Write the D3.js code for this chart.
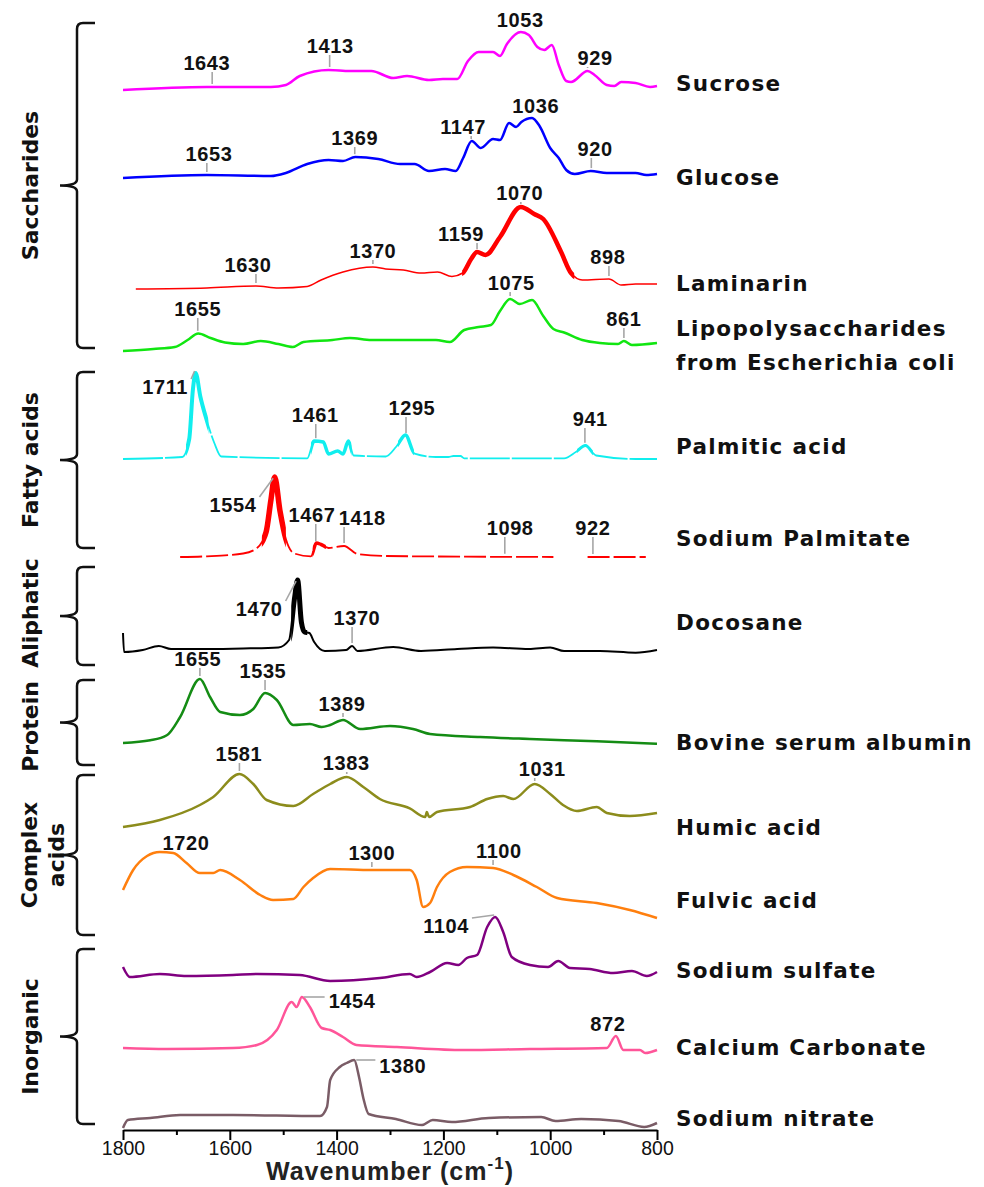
<!DOCTYPE html>
<html>
<head>
<meta charset="utf-8">
<script src="https://cdn.jsdelivr.net/npm/d3@7"></script>
<style>
  body { margin: 0; background: #fff; }
</style>
</head>
<body>
<script>
// ---- data: wavenumber (cm-1) and absorbance above each trace's own baseline (a.u.)
const sucroseWn = [1800,1643,1523,1495,1469,1415,1375,1335,1294,1268,1227,1201,1174,1154,1134,1107,1094,1081,1055,1040,1024,1011,997,984,970,961,930,917,894,880,867,840,813,800];
const sucroseAbs = [0,.03,.03,.05,.14,.20,.19,.19,.12,.14,.10,.11,.11,.29,.38,.38,.34,.46,.58,.55,.43,.40,.45,.25,.09,.08,.19,.15,.05,.04,.08,.07,.03,.04];

const glucoseWn = [1800,1643,1523,1495,1455,1415,1388,1365,1322,1281,1254,1227,1197,1177,1163,1147,1130,1107,1094,1077,1064,1054,1034,1020,1000,984,970,954,924,894,867,840,820,800];
const glucoseAbs = [0,.03,.02,.05,.14,.18,.17,.21,.19,.14,.14,.07,.09,.07,.20,.37,.30,.39,.38,.55,.51,.56,.60,.52,.30,.20,.08,.04,.07,.05,.05,.05,.03,.04];

const laminarinWn = [1776,1643,1551,1509,1455,1429,1388,1332,1308,1275,1242,1211,1184,1164,1148,1137,1121,1094,1055,1030,1013,980,961,940,890,867,840,800];
const laminarinAbs = [0,.01,.03,.01,.025,.09,.17,.22,.20,.19,.16,.17,.125,.16,.30,.37,.34,.52,.82,.75,.70,.375,.16,.09,.10,.04,.05,.05];

const lpsWn = [1800,1743,1703,1679,1659,1636,1609,1575,1542,1509,1482,1462,1408,1375,1335,1275,1214,1188,1161,1134,1111,1094,1075,1057,1034,1013,994,974,940,907,873,862,847,800];
const lpsAbs = [0,.02,.04,.11,.175,.13,.085,.07,.10,.07,.04,.09,.11,.13,.11,.11,.11,.09,.21,.24,.26,.40,.52,.47,.51,.35,.22,.185,.11,.08,.07,.10,.06,.08];

const palmiticWn = [1800,1689,1676,1669,1664,1655,1645,1629,1616,1455,1442,1425,1415,1398,1388,1378,1368,1308,1288,1271,1254,1214,1191,1181,1168,1161,974,952,934,914,840,800];
const palmiticAbs = [0,.02,.20,.70,.86,.62,.42,.16,.025,.007,.18,.17,.05,.08,.05,.18,.035,.025,.125,.24,.054,.02,.02,.03,.03,.007,.007,.07,.135,.035,0,0];

const palmitateWn = [1693,1643,1575,1549,1532,1523,1516,1506,1495,1479,1448,1438,1429,1415,1386,1361,1308,994,993,930,821];
const palmitateAbs = [0,.007,.035,.09,.25,.57,.80,.46,.18,.035,.007,.14,.125,.09,.11,.03,.01,0,null,0,0];

const docosaneWn = [1800,1798,1763,1733,1710,1643,1575,1509,1489,1479,1473,1466,1460,1451,1442,1422,1382,1371,1361,1294,1242,1174,1107,1040,1000,974,907,840,800];
const docosaneAbs = [.19,0,.02,.06,.03,.03,.035,.046,.12,.53,.72,.30,.20,.19,.10,.01,.02,.06,.01,.05,.01,.03,.046,.03,.046,.01,.01,-.007,.02];

const bsaWn = [1800,1749,1718,1693,1656,1637,1618,1581,1556,1534,1512,1481,1450,1428,1412,1388,1356,1300,1257,1225,1131,1038,913,800];
const bsaAbs = [0,.027,.077,.26,.64,.46,.31,.28,.34,.50,.43,.18,.19,.16,.18,.23,.14,.17,.14,.09,.06,.04,.017,-.007];

const humicWn = [1800,1731,1656,1631,1582,1556,1531,1481,1444,1412,1381,1350,1319,1263,1234,1231,1227,1212,1150,1118,1088,1069,1029,1000,976,950,913,894,851,800];
const humicAbs = [0,.07,.22,.30,.53,.43,.27,.21,.33,.43,.50,.40,.28,.187,.10,.15,.10,.15,.20,.28,.31,.28,.43,.33,.22,.16,.20,.14,.11,.14];

const fulvicWn = [1800,1781,1755,1731,1706,1681,1656,1631,1618,1581,1543,1519,1481,1462,1444,1412,1334,1263,1250,1238,1225,1212,1188,1156,1107,1069,1025,987,913,851,800];
const fulvicAbs = [.30,.50,.64,.68,.67,.57,.47,.47,.50,.40,.25,.20,.21,.33,.42,.51,.50,.50,.40,.13,.17,.33,.48,.53,.52,.45,.33,.22,.17,.10,.02];

const sulfateWn = [1800,1787,1731,1681,1594,1549,1469,1412,1319,1263,1250,1225,1193,1172,1156,1137,1118,1103,1088,1072,1038,1004,985,963,926,882,847,819,800];
const sulfateAbs = [.11,.01,.04,.02,.03,.04,.03,-.03,0,.04,.01,.06,.15,.13,.20,.23,.51,.61,.46,.21,.13,.11,.17,.10,.09,.05,.07,.02,.06];

const carbonateWn = [1800,1718,1594,1549,1512,1484,1475,1465,1450,1428,1412,1388,1363,1287,1163,1038,894,877,863,832,822,800];
const carbonateAbs = [0,-.01,0,.03,.18,.46,.41,.51,.41,.20,.18,.11,.03,.01,-.02,-.01,0,.12,-.02,-.02,-.05,-.02];

const nitrateWn = [1800,1791,1749,1693,1594,1431,1418,1412,1394,1381,1367,1358,1350,1340,1289,1240,1220,1184,1115,1017,990,942,872,824,800];
const nitrateAbs = [-.11,-.03,-.01,.02,.02,.01,.10,.37,.50,.54,.57,.40,.19,.03,-.02,-.08,-.03,-.05,-.01,0,-.04,-.02,-.04,-.10,-.06];

const sampleNames = [["Sucrose"],["Glucose"],["Laminarin"],["Lipopolysaccharides","from Escherichia coli"],
  ["Palmitic acid"],["Sodium Palmitate"],["Docosane"],["Bovine serum albumin"],["Humic acid"],
  ["Fulvic acid"],["Sodium sulfate"],["Calcium Carbonate"],["Sodium nitrate"]];
const sampleWn = [sucroseWn, glucoseWn, laminarinWn, lpsWn, palmiticWn, palmitateWn, docosaneWn, bsaWn, humicWn, fulvicWn, sulfateWn, carbonateWn, nitrateWn];
const sampleAbs = [sucroseAbs, glucoseAbs, laminarinAbs, lpsAbs, palmiticAbs, palmitateAbs, docosaneAbs, bsaAbs, humicAbs, fulvicAbs, sulfateAbs, carbonateAbs, nitrateAbs];
// vertical stacking offset of each trace (a.u.)
const sampleOffset = [10.40, 9.52, 8.41, 7.79, 6.71, 5.73, 4.78, 3.87, 3.03, 2.10, 1.52, 0.82, 0.13];

// peak labels: [trace, text, leader wavenumber, label wavenumber, label height above baseline]
const peakLabels = [
  [0,"1643",1633,1643,.28],[0,"1413",1413,1412,.45],[0,"1053",1055,1056,.71],[0,"929",930,916,.33],
  [1,"1653",1643,1639,.25],[1,"1369",1366,1366,.41],[1,"1147",1148,1163,.52],[1,"1036",1034,1027,.73],[1,"920",923,916,.30],
  [2,"1630",1551,1566,.25],[2,"1370",1332,1332,.39],[2,"1159",1137,1167,.56],[2,"1070",1055,1057,.97],[2,"898",890,892,.33],
  [3,"1655",1660,1660,.43],[3,"1075",1075,1073,.69],[3,"861",862,862,.33],
  [4,"1711",1664,1721,.73],[4,"1461",1439,1440,.45],[4,"1295",1270,1259,.52],[4,"941",935,925,.41],
  [5,"1554",1517,1594,.53],[5,"1467",1439,1446,.43],[5,"1418",1386,1352,.40],[5,"1098",1085,1075,.30],[5,"922",920,920,.30],
  [6,"1470",1474,1545,.44],[6,"1370",1371,1362,.35],
  [7,"1655",1656,1660,.85],[7,"1535",1534,1538,.73],[7,"1389",1388,1390,.40],
  [8,"1581",1582,1583,.74],[8,"1383",1381,1382,.65],[8,"1031",1029,1015,.59],
  [9,"1720",null,1682,.78],[9,"1300",1334,1334,.68],[9,"1100",1107,1096,.70],
  [10,"1104",1103,1195,.53],
  [11,"1454",1465,1371,.48],[11,"872",877,892,.25],
  [12,"1380",1367,1276,.52]
];

// sample classes drawn as braces (a.u.)
const groupNames = [["Saccharides"],["Fatty acids"],["Aliphatic"],["Protein"],["Complex","acids"],["Inorganic"]];
const groupTop = [11.07, 7.58, 5.63, 4.50, 3.55, 1.81];
const groupBottom = [7.82, 5.82, 4.65, 3.65, 1.95, 0.06];

const majorTicks = [1800, 1600, 1400, 1200, 1000, 800];
const minorTicks = [1700, 1500, 1300, 1100, 900];

// ---- styles
const colors = ["#ff00ff","#0000ff","#ff0000","#11e611","#11eeee","#ff0000","#000000","#148c14","#8c8c1c","#ff7f0e","#800080","#ff5599","#7a5c66"];
const widths = [2.5, 2.5, 1.5, 2.5, 1.8, 1.8, 2, 2.5, 2.5, 2.5, 2.5, 2.5, 2.5];
const dashes = [null, null, null, null, "40,2", "22,4", null, null, null, null, null, null, null];
// thicker parts of some traces: [trace, from wn, to wn, width]
const thick = [[2,1165,955,4.5],[4,1682,1640,4],[4,1448,1372,3.5],[4,1285,1255,3.5],[4,950,920,3],
  [5,1540,1495,5.5],[5,1445,1420,3.5],[6,1485,1455,5]];
const labelY = [83, 177, 283, 328, 446, 538, 622, 742, 827, 900, 970, 1047, 1118];

const width = 984, height = 1187;
const svg = d3.select("body").append("svg")
  .attr("width", width).attr("height", height)
  .style("font-family", "'Liberation Sans', Arial, sans-serif");

const x = d3.scaleLinear().domain([1800, 800]).range([123, 657]);
const y = d3.scaleLinear().domain([0, 11]).range([1130, 30]);

function absAt(i, wn) {
  const w = sampleWn[i], a = sampleAbs[i];
  for (let k = 0; k < w.length - 1; k++) {
    if (a[k] == null || a[k + 1] == null) continue;
    if (wn <= w[k] && wn >= w[k + 1]) {
      const t = (w[k] - wn) / (w[k] - w[k + 1]);
      return a[k] + t * (a[k + 1] - a[k]);
    }
  }
  return 0;
}

const line = d3.line()
  .defined(d => d.a != null)
  .x(d => x(d.wn))
  .y(d => y(d.off + d.a))
  .curve(d3.curveMonotoneX);

const traces = sampleWn.map((w, i) => w.map((wn, k) => ({ wn, a: sampleAbs[i][k], off: sampleOffset[i] })));

const defs = svg.append("defs");
thick.forEach((t, j) => {
  defs.append("clipPath").attr("id", "thick" + j)
    .append("rect")
    .attr("x", x(t[1])).attr("width", x(t[2]) - x(t[1]))
    .attr("y", 0).attr("height", height);
});

const plot = svg.append("g");
plot.selectAll("path.trace")
  .data(traces)
  .join("path")
  .attr("class", "trace")
  .attr("d", line)
  .attr("fill", "none")
  .attr("stroke", (d, i) => colors[i])
  .attr("stroke-width", (d, i) => widths[i])
  .attr("stroke-dasharray", (d, i) => dashes[i])
  .attr("stroke-linejoin", "round");

thick.forEach((t, j) => {
  plot.append("path")
    .attr("d", line(traces[t[0]]))
    .attr("fill", "none")
    .attr("stroke", colors[t[0]])
    .attr("stroke-width", t[3])
    .attr("stroke-linejoin", "round")
    .attr("clip-path", `url(#thick${j})`);
});

// x axis
const axisG = svg.append("g").attr("transform", `translate(0,${y(0)})`);
axisG.call(d3.axisBottom(x).tickValues(majorTicks).tickFormat(d3.format("d"))
    .tickSize(10).tickPadding(1).tickSizeOuter(0))
  .call(g => g.select(".domain").attr("stroke-width", 2))
  .call(g => g.selectAll(".tick line").attr("stroke-width", 2))
  .call(g => g.selectAll(".tick text")
    .attr("font-family", "'Liberation Sans', Arial, sans-serif")
    .attr("font-size", 19.5).attr("fill", "#111"));
svg.append("g").attr("transform", `translate(0,${y(0)})`)
  .call(d3.axisBottom(x).tickValues(minorTicks).tickSize(5).tickFormat("").tickSizeOuter(0))
  .call(g => g.select(".domain").remove())
  .call(g => g.selectAll(".tick line").attr("stroke-width", 2));

const title = svg.append("text")
  .attr("x", (x.range()[0] + x.range()[1]) / 2).attr("y", 1180)
  .attr("text-anchor", "middle")
  .attr("font-weight", "bold").attr("font-size", 25)
  .attr("letter-spacing", 1).attr("fill", "#222");
title.append("tspan").text("Wavenumber (cm");
title.append("tspan").attr("font-size", 17).attr("dy", -11).text("-1");
title.append("tspan").attr("dy", 11).text(")");

// peak labels with grey leader lines
const ann = svg.append("g");
peakLabels.forEach(([i, txt, anchorWn, labWn, labH]) => {
  const tx = x(labWn), ty = y(sampleOffset[i] + labH);
  const t = ann.append("text")
    .attr("x", tx).attr("y", ty + 7.5)
    .attr("text-anchor", "middle")
    .attr("font-weight", "bold").attr("font-size", 20)
    .attr("letter-spacing", 0.6).attr("fill", "#111")
    .text(txt);
  if (anchorWn == null) return;
  const hw = t.node().getComputedTextLength() / 2;
  const ax = x(anchorWn), ay = y(sampleOffset[i] + absAt(i, anchorWn));
  let p;
  if (Math.abs(tx - ax) < hw) {
    p = [[ax, ty + 10], [ax, ay - 3]];
  } else if (ax > tx) {
    p = [[tx + hw + 3, Math.max(ty - 7, Math.min(ay, ty + 7))], [ax - 1, ay - 2]];
  } else {
    p = [[ax + 2, ay], [tx - hw - 4, Math.max(ty - 7, Math.min(ay, ty + 7))]];
  }
  ann.append("line")
    .attr("x1", p[0][0]).attr("y1", p[0][1]).attr("x2", p[1][0]).attr("y2", p[1][1])
    .attr("stroke", "#a6a6a6").attr("stroke-width", 1.6);
});

// sample names on the right
sampleNames.forEach((lines, i) => {
  lines.forEach((s, k) => {
    svg.append("text")
      .attr("x", 676).attr("y", labelY[i] + 8 + k * 34)
      .attr("font-family", "'DejaVu Sans', Verdana, sans-serif")
      .attr("font-weight", "bold").attr("font-size", 21.5)
      .attr("letter-spacing", 1.3).attr("fill", "#111")
      .text(s);
  });
});

// class braces and labels on the left
const vx = 77, armX = 95, tipX = 60, r = 6;
groupNames.forEach((names, g) => {
  const top = y(groupTop[g]), bot = y(groupBottom[g]), mid = (top + bot) / 2;
  const path = `M${armX},${top} L${vx + r},${top} Q${vx},${top} ${vx},${top + r}
    L${vx},${mid - r} Q${vx},${mid} ${tipX},${mid} Q${vx},${mid} ${vx},${mid + r}
    L${vx},${bot - r} Q${vx},${bot} ${vx + r},${bot} L${armX},${bot}`;
  svg.append("path").attr("d", path)
    .attr("fill", "none").attr("stroke", "#111").attr("stroke-width", 2.5);
  const bx = names.length > 1 ? [37, 64] : [38];
  const cy = names[0] === "Protein" ? mid + 4 : (names[0] === "Aliphatic" ? mid - 3 : mid);
  names.forEach((s, k) => {
    svg.append("text")
      .attr("transform", `translate(${bx[k]},${cy}) rotate(-90)`)
      .attr("text-anchor", "middle")
      .attr("font-family", "'DejaVu Sans', Verdana, sans-serif")
      .attr("font-weight", "bold").attr("font-size", 22).attr("fill", "#111")
      .text(s);
  });
});
</script>
</body>
</html>
